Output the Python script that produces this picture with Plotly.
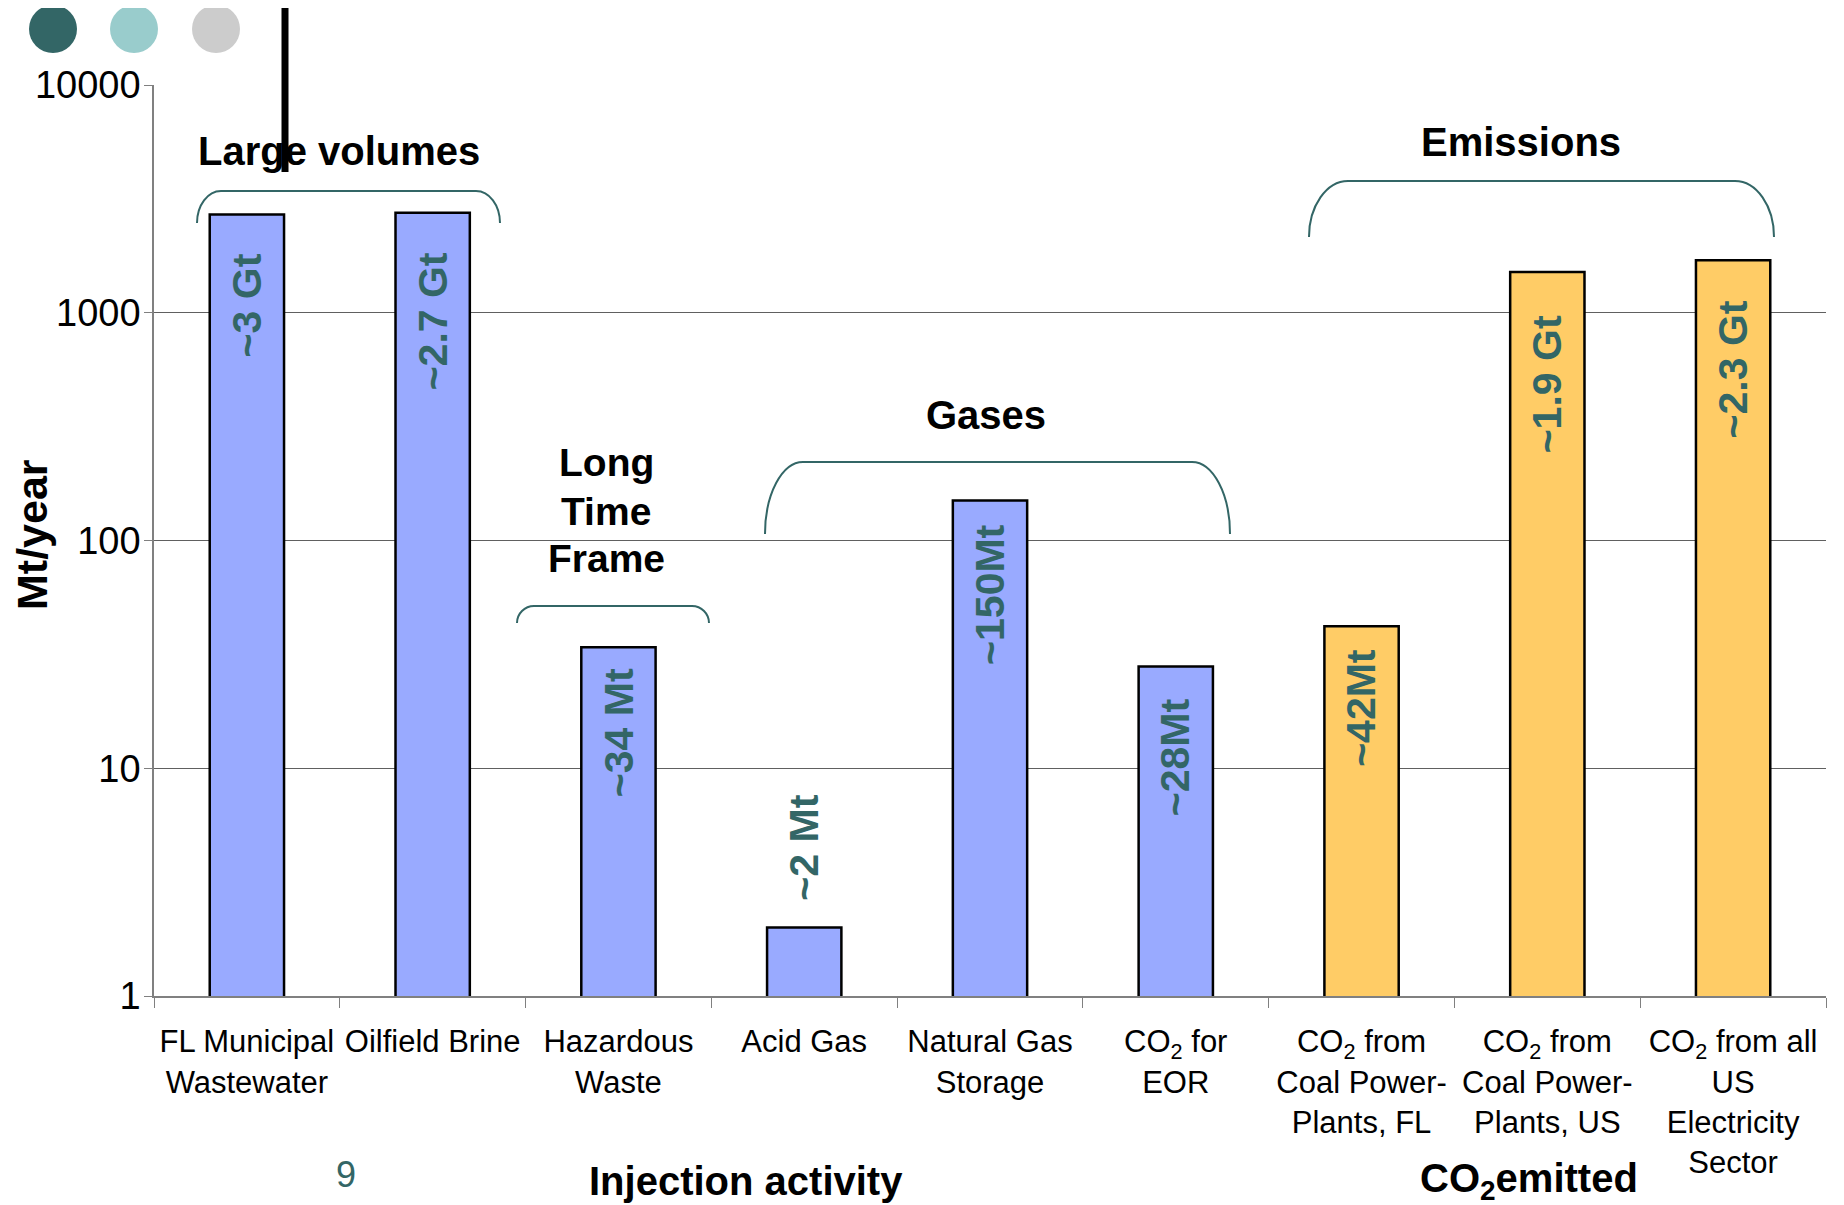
import math
import plotly.graph_objects as go

# ---------------- data ----------------
categories = [
    "FL Municipal<br>Wastewater",
    "Oilfield Brine",
    "Hazardous<br>Waste",
    "Acid Gas",
    "Natural Gas<br>Storage",
    "CO<sub>2</sub> for<br>EOR",
    "CO<sub>2</sub> from<br>Coal Power-<br>Plants, FL",
    "CO<sub>2</sub> from<br>Coal Power-<br>Plants, US",
    "CO<sub>2</sub> from all<br>US<br>Electricity<br>Sector",
]
values_mt = [2700, 2750, 34, 2, 150, 28, 42, 1510, 1700]
bar_labels = ["~3 Gt", "~2.7 Gt", "~34 Mt", "~2 Mt", "~150Mt", "~28Mt", "~42Mt", "~1.9 Gt", "~2.3 Gt"]
bar_group = ["injection"] * 6 + ["emitted"] * 3
y_tick_vals = [1, 10, 100, 1000, 10000]
y_tick_text = ["1", "10", "100", "1000", "10000"]

# ---------------- styles ----------------
OFF = 8                       # page body margin of the html page
W, H = 1844 - OFF, 1205 - OFF
PL, PR, PT, PB = 154, 1826, 85, 996  # plot area in page pixels
FONT = "Liberation Sans, Arial, sans-serif"
TEAL = "#336666"
group_colors = {"injection": "#99AAFF", "emitted": "#FFCC66"}
# label offset (px) from bar top; negative -> above the bar
label_offsets_px = [37, 38, 19, -25, 22, 30, 21, 41, 38]


def px(x):
    return (x - PL) / (PR - PL)


def py(y):
    return (PB - y) / (PB - PT)


fig = go.Figure()
fig.add_trace(go.Bar(
    x=categories,
    y=values_mt,
    width=0.4,
    marker=dict(color=[group_colors[g] for g in bar_group],
                line=dict(color="black", width=2.5)),
    hoverinfo="x+y",
))

annotations = []
for cat, v, lab, off in zip(categories, values_mt, bar_labels, label_offsets_px):
    annotations.append(dict(
        x=cat, y=math.log10(v), xref="x", yref="y",
        text=f"<b>{lab}</b>", showarrow=False, textangle=-90,
        yanchor="top" if off > 0 else "bottom",
        yshift=-off,
        font=dict(family=FONT, size=41, color=TEAL),
    ))


def txt(x, y, text, size=40, bold=True, color="black", angle=0):
    annotations.append(dict(
        x=px(x), y=py(y), xref="paper", yref="paper",
        text=f"<b>{text}</b>" if bold else text, showarrow=False,
        xanchor="center", yanchor="middle", textangle=angle,
        font=dict(family=FONT, size=size, color=color),
    ))


txt(339, 151, "Large volumes")
txt(606, 463, "Long", size=39)
txt(606, 511, "Time", size=39)
txt(606, 558, "Frame", size=39)
txt(986, 415, "Gases")
txt(1521, 142, "Emissions")
txt(32, 534, "Mt/year", size=43, angle=-90)
txt(746, 1181, "Injection activity")
txt(1529, 1181, "CO<sub>2</sub>emitted")
txt(346, 1174, "9", size=36, bold=False, color=TEAL)

shapes = []


def bracket(x0, x1, yt, yb, rx):
    k = 0.5523
    ry = yb - yt
    pts = [
        f"M {px(x0)},{py(yb)}",
        f"C {px(x0)},{py(yb - k * ry)} {px(x0 + rx - k * rx)},{py(yt)} {px(x0 + rx)},{py(yt)}",
        f"L {px(x1 - rx)},{py(yt)}",
        f"C {px(x1 - rx + k * rx)},{py(yt)} {px(x1)},{py(yb - k * ry)} {px(x1)},{py(yb)}",
    ]
    shapes.append(dict(type="path", path=" ".join(pts), xref="paper", yref="paper",
                       line=dict(color=TEAL, width=2)))


bracket(197, 500, 191, 223, 24)
bracket(517, 709, 606, 623, 17)
bracket(765, 1230, 462, 534, 38)
bracket(1309, 1774, 181, 237, 39)

# decorative circles
for cx, col in [(53, "#336666"), (134, "#99CCCC"), (216, "#CCCCCC")]:
    r = 24
    shapes.append(dict(type="circle", xref="paper", yref="paper",
                       x0=px(cx - r), x1=px(cx + r), y0=py(29 + r), y1=py(29 - r),
                       fillcolor=col, line=dict(width=0)))
# decorative vertical bar
shapes.append(dict(type="line", xref="paper", yref="paper",
                   x0=px(285), x1=px(285), y0=py(OFF), y1=py(172),
                   line=dict(color="black", width=7)))

fig.update_layout(
    width=W, height=H,
    margin=dict(l=PL - OFF, r=W - (PR - OFF), t=PT - OFF, b=H - (PB - OFF), pad=0),
    paper_bgcolor="white", plot_bgcolor="white",
    showlegend=False,
    font=dict(family=FONT, color="black"),
    annotations=annotations,
    shapes=shapes,
)
fig.update_xaxes(
    type="category", range=[-0.5, 8.5],
    tickson="boundaries", ticks="outside", ticklen=10, tickcolor="#808080",
    showline=True, linecolor="#808080", linewidth=2,
    showgrid=False, tickfont=dict(family=FONT, size=31, color="black"),
    ticklabelstandoff=17,
)
fig.update_yaxes(
    type="log", range=[0, 4],
    tickvals=y_tick_vals, ticktext=y_tick_text,
    ticks="outside", ticklen=8, tickcolor="#808080",
    showline=True, linecolor="#808080", linewidth=1.5,
    showgrid=True, gridcolor="#606060", gridwidth=1,
    zeroline=False, ticklabelstandoff=-4,
    tickfont=dict(family=FONT, size=38, color="black"),
)

fig.write_html("out.html")
